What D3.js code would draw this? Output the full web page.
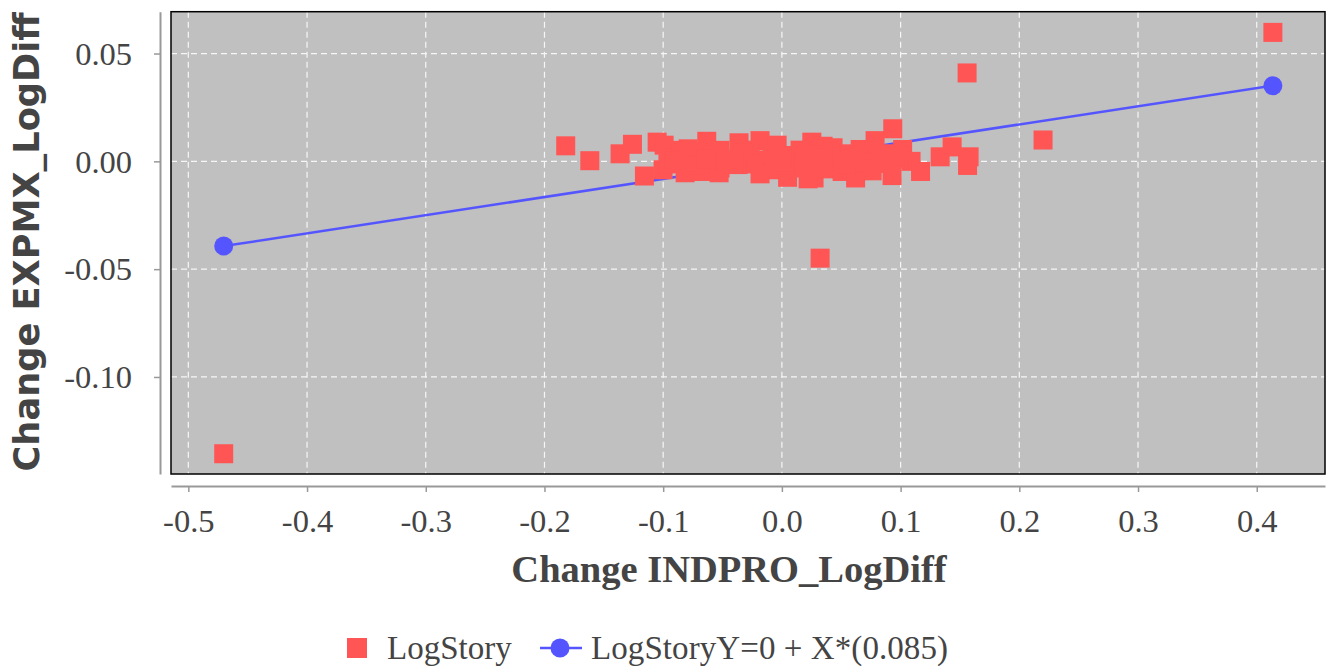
<!DOCTYPE html>
<html><head><meta charset="utf-8">
<script src="https://cdn.jsdelivr.net/npm/d3@7"></script>
<style>html,body{margin:0;padding:0;background:#fff;}svg{display:block;}</style>
</head><body>
<svg id="chart" width="1335" height="666"></svg>
<script>
// ---- data ----
const scatterX = [-0.4702,0.4136,0.1560,0.2200,0.0322,-0.1821,-0.1618,-0.1363,-0.1259,-0.1158,
 -0.1051,-0.0992,-0.0891,-0.0790,-0.0633,-0.0521,-0.0361,-0.0184,-0.0040,0.0061,
 0.0252,0.0347,0.0431,0.0575,0.0659,0.0785,0.0934,0.1017,0.1088,0.1333,
 0.1434,0.1577,-0.1001,-0.0815,-0.0672,-0.0529,-0.0369,-0.0184,-0.0074,0.0048,
 0.0221,0.0271,0.0398,0.0507,0.0621,0.0760,0.0928,0.1168,0.1564,-0.0942,
 -0.0773,-0.0605,-0.0436,-0.0285,-0.0116,-0.0015,0.0136,0.0305,0.0473,0.0642,
 0.0810,0.0954,-0.0689,-0.0268,0.0153,0.0406,-0.0521,0.0111,0.0700,
 -0.0960,-0.0850,-0.0720,-0.0580,-0.0470,-0.0330,-0.0220,-0.0080,0.0020,0.0190,
 0.0350,0.0540,0.0720,0.0880,0.0990,-0.0900,-0.0640,-0.0400,0.0000,0.0270,0.0600,0.0850];
const scatterY = [-0.1356,0.0598,0.0410,0.0099,-0.0449,0.0072,0.0003,0.0035,0.0079,-0.0068,
 0.0089,0.0075,0.0051,0.0058,0.0093,0.0051,0.0086,0.0096,0.0075,0.0027,
 0.0089,0.0070,0.0063,0.0035,0.0055,0.0096,0.0151,0.0055,0.0000,0.0021,
 0.0067,0.0021,-0.0039,-0.0053,-0.0047,-0.0053,-0.0015,-0.0058,-0.0039,-0.0074,
 -0.0081,-0.0077,-0.0035,-0.0047,-0.0077,-0.0044,-0.0066,-0.0047,-0.0019,0.0015,
 0.0006,0.0020,0.0011,0.0025,0.0006,-0.0003,0.0006,0.0006,0.0001,-0.0008,
 0.0015,0.0015,0.0043,0.0052,0.0052,0.0029,-0.0031,-0.0031,-0.0022,
 -0.0012,0.0035,-0.0015,0.0030,-0.0010,0.0040,-0.0012,0.0035,-0.0015,-0.0010,
 0.0030,-0.0012,-0.0008,0.0035,0.0025,0.0000,0.0010,0.0005,0.0020,0.0030,0.0015,-0.0010];
const fitX = [-0.4702, 0.4136];
const fitY = [-0.0393, 0.0351];
const xTicks = [-0.5,-0.4,-0.3,-0.2,-0.1,0.0,0.1,0.2,0.3,0.4];
const yTicks = [0.05,0.00,-0.05,-0.10];
const xDomain = [-0.5146, 0.4575];
const yDomain = [-0.1450, 0.0694];
const xTitle = "Change INDPRO_LogDiff";
const yTitle = "Change EXPMX_LogDiff";
const legendLabels = ["LogStory", "LogStoryY=0 + X*(0.085)"];

// ---- layout ----
const L = 171, R = 1325, T = 11.7, B = 474;
const svg = d3.select("#chart");
const x = d3.scaleLinear().domain(xDomain).range([L, R]);
const y = d3.scaleLinear().domain(yDomain).range([B, T]);
const red = "#ff5555", blue = "#5555ff", txt = "#444444";
const serif = "'Liberation Serif', 'Times New Roman', serif";

svg.append("rect").attr("x", L).attr("y", T).attr("width", R - L).attr("height", B - T).attr("fill", "#c0c0c0");

// gridlines
svg.append("g").selectAll("line").data(xTicks).join("line")
  .attr("x1", d => x(d)).attr("x2", d => x(d)).attr("y1", T).attr("y2", B)
  .attr("stroke", "#f6f6f6").attr("stroke-width", 1.2).attr("stroke-dasharray", "6,4");
svg.append("g").selectAll("line").data(yTicks).join("line")
  .attr("y1", d => y(d)).attr("y2", d => y(d)).attr("x1", L).attr("x2", R)
  .attr("stroke", "#f6f6f6").attr("stroke-width", 1.2).attr("stroke-dasharray", "6,4");

// fit line
const fitPts = fitX.map((v, i) => [v, fitY[i]]);
svg.append("path").datum(fitPts)
  .attr("d", d3.line().x(d => x(d[0])).y(d => y(d[1])))
  .attr("stroke", blue).attr("stroke-width", 2.5).attr("fill", "none");
svg.append("g").selectAll("circle").data(fitPts).join("circle")
  .attr("cx", d => x(d[0])).attr("cy", d => y(d[1])).attr("r", 9.5).attr("fill", blue);

// scatter squares
const S = 19;
const pts = scatterX.map((v, i) => [v, scatterY[i]]);
svg.append("g").selectAll("rect").data(pts).join("rect")
  .attr("x", d => x(d[0]) - S / 2).attr("y", d => y(d[1]) - S / 2)
  .attr("width", S).attr("height", S).attr("fill", red);

// border
svg.append("rect").attr("x", L).attr("y", T).attr("width", R - L).attr("height", B - T)
  .attr("fill", "none").attr("stroke", "#000").attr("stroke-width", 1.5);

// x axis
const xAxis = svg.append("g").attr("transform", "translate(0,486)")
  .call(d3.axisBottom(x).tickValues(xTicks).tickFormat(d3.format(".1f")).tickSizeOuter(0).tickSizeInner(6).tickPadding(20));
xAxis.select(".domain").attr("stroke", "#999").attr("stroke-width", 2);
xAxis.selectAll(".tick line").attr("stroke", "#999").attr("stroke-width", 1.5);
xAxis.selectAll(".tick text").attr("fill", txt).attr("font-family", serif)
  .attr("font-size", 32.5).attr("dy", null).attr("y", 46).text(d => d3.format(".1f")(d).replace("−", "-"));

// y axis
const yAxis = svg.append("g").attr("transform", "translate(160,0)")
  .call(d3.axisLeft(y).tickValues(yTicks).tickFormat(d3.format(".2f")).tickSizeOuter(0).tickSizeInner(6).tickPadding(22));
yAxis.select(".domain").attr("stroke", "#999").attr("stroke-width", 2);
yAxis.selectAll(".tick line").attr("stroke", "#999").attr("stroke-width", 1.5);
yAxis.selectAll(".tick text").attr("fill", txt).attr("font-family", serif)
  .attr("font-size", 32.5).attr("dy", "0.33em").attr("x", -28).text(d => d3.format(".2f")(d).replace("−", "-"));

// titles
svg.append("text").attr("x", 729).attr("y", 582).attr("text-anchor", "middle")
  .attr("font-family", serif).attr("font-weight", "bold")
  .attr("font-size", 38.5).attr("fill", txt).text(xTitle);
svg.append("text").attr("transform", "translate(39," + ((T + B) / 2 - 1) + ") rotate(-90)").attr("text-anchor", "middle")
  .attr("font-family", "'DejaVu Sans', sans-serif").attr("font-weight", "bold")
  .attr("font-size", 35.2).attr("fill", txt).text(yTitle);

// legend
const lg = svg.append("g");
lg.append("rect").attr("x", 347).attr("y", 638).attr("width", 20).attr("height", 20).attr("fill", red);
lg.append("text").attr("x", 387).attr("y", 659).attr("font-family", serif)
  .attr("font-size", 33).attr("fill", txt).text(legendLabels[0]);
lg.append("line").attr("x1", 540).attr("x2", 582).attr("y1", 648).attr("y2", 648).attr("stroke", blue).attr("stroke-width", 2.5);
lg.append("circle").attr("cx", 560).attr("cy", 648).attr("r", 9.5).attr("fill", blue);
lg.append("text").attr("x", 591).attr("y", 659).attr("font-family", serif)
  .attr("font-size", 33).attr("fill", txt).attr("textLength", 357).text(legendLabels[1]);
</script>
</body></html>
